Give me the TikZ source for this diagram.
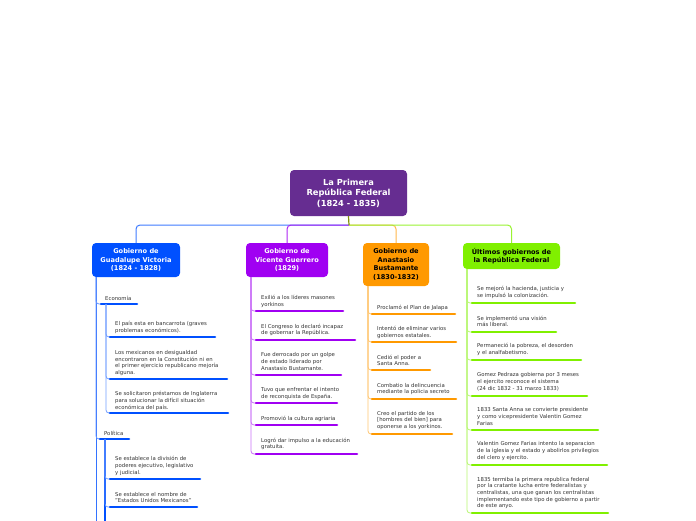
\documentclass[tikz,border=0pt]{standalone}
\usepackage{fontspec}
\setmainfont{DejaVu Sans}
\definecolor{rootc}{HTML}{662D91}
\definecolor{bluec}{HTML}{0050FF}
\definecolor{purpc}{HTML}{A000F2}
\definecolor{orgc}{HTML}{FF9900}
\definecolor{grnc}{HTML}{80F000}
\definecolor{txtc}{HTML}{333333}
\tikzset{
  topbox/.style={draw=none, rounded corners=4pt, align=center, inner sep=0pt, font=\bfseries\fontsize{6.6}{8.4}\selectfont},
  itemtext/.style={anchor=west, align=left, inner sep=0pt, text=txtc, font=\fontsize{5.35}{6.7}\selectfont},
  uline/.style={line width=2.6pt, line cap=round},
  thin/.style={line width=0.8pt, rounded corners=3pt},
  link/.style={line width=1pt, rounded corners=4pt}
}
% #1 name, #2 text x, #3 y centre, #4 text, #5 underline y, #6 underline x1, #7 x2, #8 colour, #9 vertical start coordinate name
\newcommand\brItem[9]{%
  \node[itemtext] (#1) at (#2,#3) {#4};
  \coordinate (#1a) at (#6,#5);
  \coordinate (#1b) at (#7,#5);
  \draw[thin,#8!55] (#9) |- (#1a);
  \draw[uline,#8] (#1a) -- (#1b);
}
\begin{document}
\begin{tikzpicture}[x=1pt,y=-1pt]
\clip (0,0) rectangle (696,520);
\fill[white] (0,0) rectangle (696,520);

% root
\node[topbox, fill=rootc, text=white, minimum width=117pt, minimum height=46pt, font=\bfseries\fontsize{8.3}{10.5}\selectfont] (root) at (348.5,193) {La Primera\\República Federal\\(1824 - 1835)};

% level 1
\node[topbox, fill=bluec, text=white, minimum width=88pt, minimum height=34pt] (b) at (136,260) {Gobierno de\\Guadalupe Victoria\\(1824 - 1828)};
\node[topbox, fill=purpc, text=white, minimum width=82pt, minimum height=34pt] (p) at (287,260) {Gobierno de\\Vicente Guerrero\\(1829)};
\node[topbox, fill=orgc, text=black, minimum width=66pt, minimum height=43pt] (o) at (396,264.5) {Gobierno de\\Anastasio\\Bustamante\\(1830-1832)};
\node[topbox, fill=grnc, text=black, minimum width=97pt, minimum height=26pt] (g) at (511.5,256) {Últimos gobiernos de\\la República Federal};

\coordinate (j) at (349,225);
\draw[link, bluec!75] (j) -| (b.north);
\draw[link, purpc!85] (j) -| (p.north);
\draw[link, orgc!70] (j) -| (o.north);
\draw[link, grnc!80] (j) -| (g.north);
\draw[line width=1.2pt, olive!80!green] (root.south) -- (j);

% ---------- blue branch ----------
\coordinate (bv) at (96,277);
\draw[thin, bluec!80] (bv) -- (96,530);
\node[itemtext] (eco) at (105,298) {Economía};
\coordinate (ecoa) at (101,304);
\coordinate (ecob) at (137,304);
\draw[thin, bluec!60] (bv) |- (ecoa);
\draw[uline, bluec] (ecoa) -- (ecob);
\coordinate (ecov) at (106,304);
\brItem{b1}{115}{327.5}{El país esta en bancarrota (graves\\problemas económicos).}{337}{110}{215}{bluec}{ecov}
\brItem{b2}{115}{363}{Los mexicanos en desigualdad\\encontraron en la Constitución ni en\\el primer ejercicio republicano mejoría\\alguna.}{379}{110}{227}{bluec}{ecov}
\brItem{b3}{115}{401}{Se solicitaron préstamos de Inglaterra\\para solucionar la difícil situación\\económica del país.}{413}{110}{228}{bluec}{ecov}

\node[itemtext] (pol) at (104,433) {Política};
\coordinate (pola) at (100,439);
\coordinate (polb) at (129,439);
\draw[thin, bluec!60] (bv) |- (pola);
\draw[uline, bluec] (pola) -- (polb);
\coordinate (polv) at (105,439);
\draw[line width=1.4pt, bluec] (polv) -- (105,530);
\brItem{b4}{115}{466}{Se establece la división de\\poderes ejecutivo, legislativo\\y judicial.}{479}{110}{200}{bluec}{polv}
\brItem{b5}{115}{497.5}{Se establece el nombre de\\"Estados Unidos Mexicanos"}{507}{110}{197}{bluec}{polv}

% ---------- purple branch ----------
\coordinate (pv) at (251,277);
\brItem{p1}{261}{301.5}{Exilió a los líderes masones\\yorkinos}{311}{256}{343}{purpc}{pv}
\brItem{p2}{261}{330}{El Congreso lo declaró incapaz\\de gobernar la República.}{340}{256}{355}{purpc}{pv}
\brItem{p3}{261}{361.5}{Fue derrocado por un golpe\\de estado liderado por\\Anastasio Bustamante.}{375}{256}{341}{purpc}{pv}
\brItem{p4}{261}{393.5}{Tuvo que enfrentar el intento\\de reconquista de España.}{403}{256}{337}{purpc}{pv}
\brItem{p5}{261}{419}{Promovió la cultura agriaria}{425}{256}{337}{purpc}{pv}
\brItem{p6}{261}{444}{Logró dar impulso a la educación\\gratuita.}{454}{256}{357}{purpc}{pv}

% ---------- orange branch ----------
\coordinate (ov) at (368,286);
\brItem{o1}{377}{307.5}{Proclamó el Plan de Jalapa}{314}{372}{455}{orgc}{ov}
\brItem{o2}{377}{332.5}{Intentó de eliminar varios\\gobiernos estatales.}{342}{372}{456}{orgc}{ov}
\brItem{o3}{377}{360.5}{Cedió el poder a\\Santa Anna.}{370}{372}{430}{orgc}{ov}
\brItem{o4}{377}{389}{Combatio la delincuencia\\mediante la policia secreto}{399}{372}{456}{orgc}{ov}
\brItem{o5}{377}{420.5}{Creo el partido de los\\{}{[}hombres del bien{]} para\\oponerse a los yorkinos.}{434}{372}{452}{orgc}{ov}

% ---------- green branch ----------
\coordinate (gv) at (467,269);
\brItem{g1}{477}{292.5}{Se mejoró la hacienda, justicia y\\se impulsó la colonización.}{303}{472}{575}{grnc}{gv}
\brItem{g2}{477}{321.5}{Se implementó una visión\\más liberal.}{332}{472}{556}{grnc}{gv}
\brItem{g3}{477}{349.5}{Permaneció la pobreza, el desorden\\y el analfabetismo.}{360}{472}{581}{grnc}{gv}
\brItem{g4}{477}{382}{Gomez Pedraza gobierna por 3 meses\\el ejercito reconoce el sistema\\(24 dic 1832 - 31 marzo 1833)}{396}{472}{587}{grnc}{gv}
\brItem{g5}{477}{416.5}{1833 Santa Anna se convierte presidente\\y como vicepresidente Valentin Gomez\\Farias}{430}{472}{598}{grnc}{gv}
\brItem{g6}{477}{451}{Valentin Gomez Farias intento la separacion\\de la iglesia y el estado y abolirlos privilegios\\del clero y ejercito.}{465}{472}{607}{grnc}{gv}
\brItem{g7}{477}{493}{1835 termiba la primera republica federal\\por la cratante lucha entre federalistas y\\centralistas, una que ganan los centralistas\\implementando este tipo de gobierno a partir\\ de este anyo.}{513}{472}{608}{grnc}{gv}
\end{tikzpicture}
\end{document}
